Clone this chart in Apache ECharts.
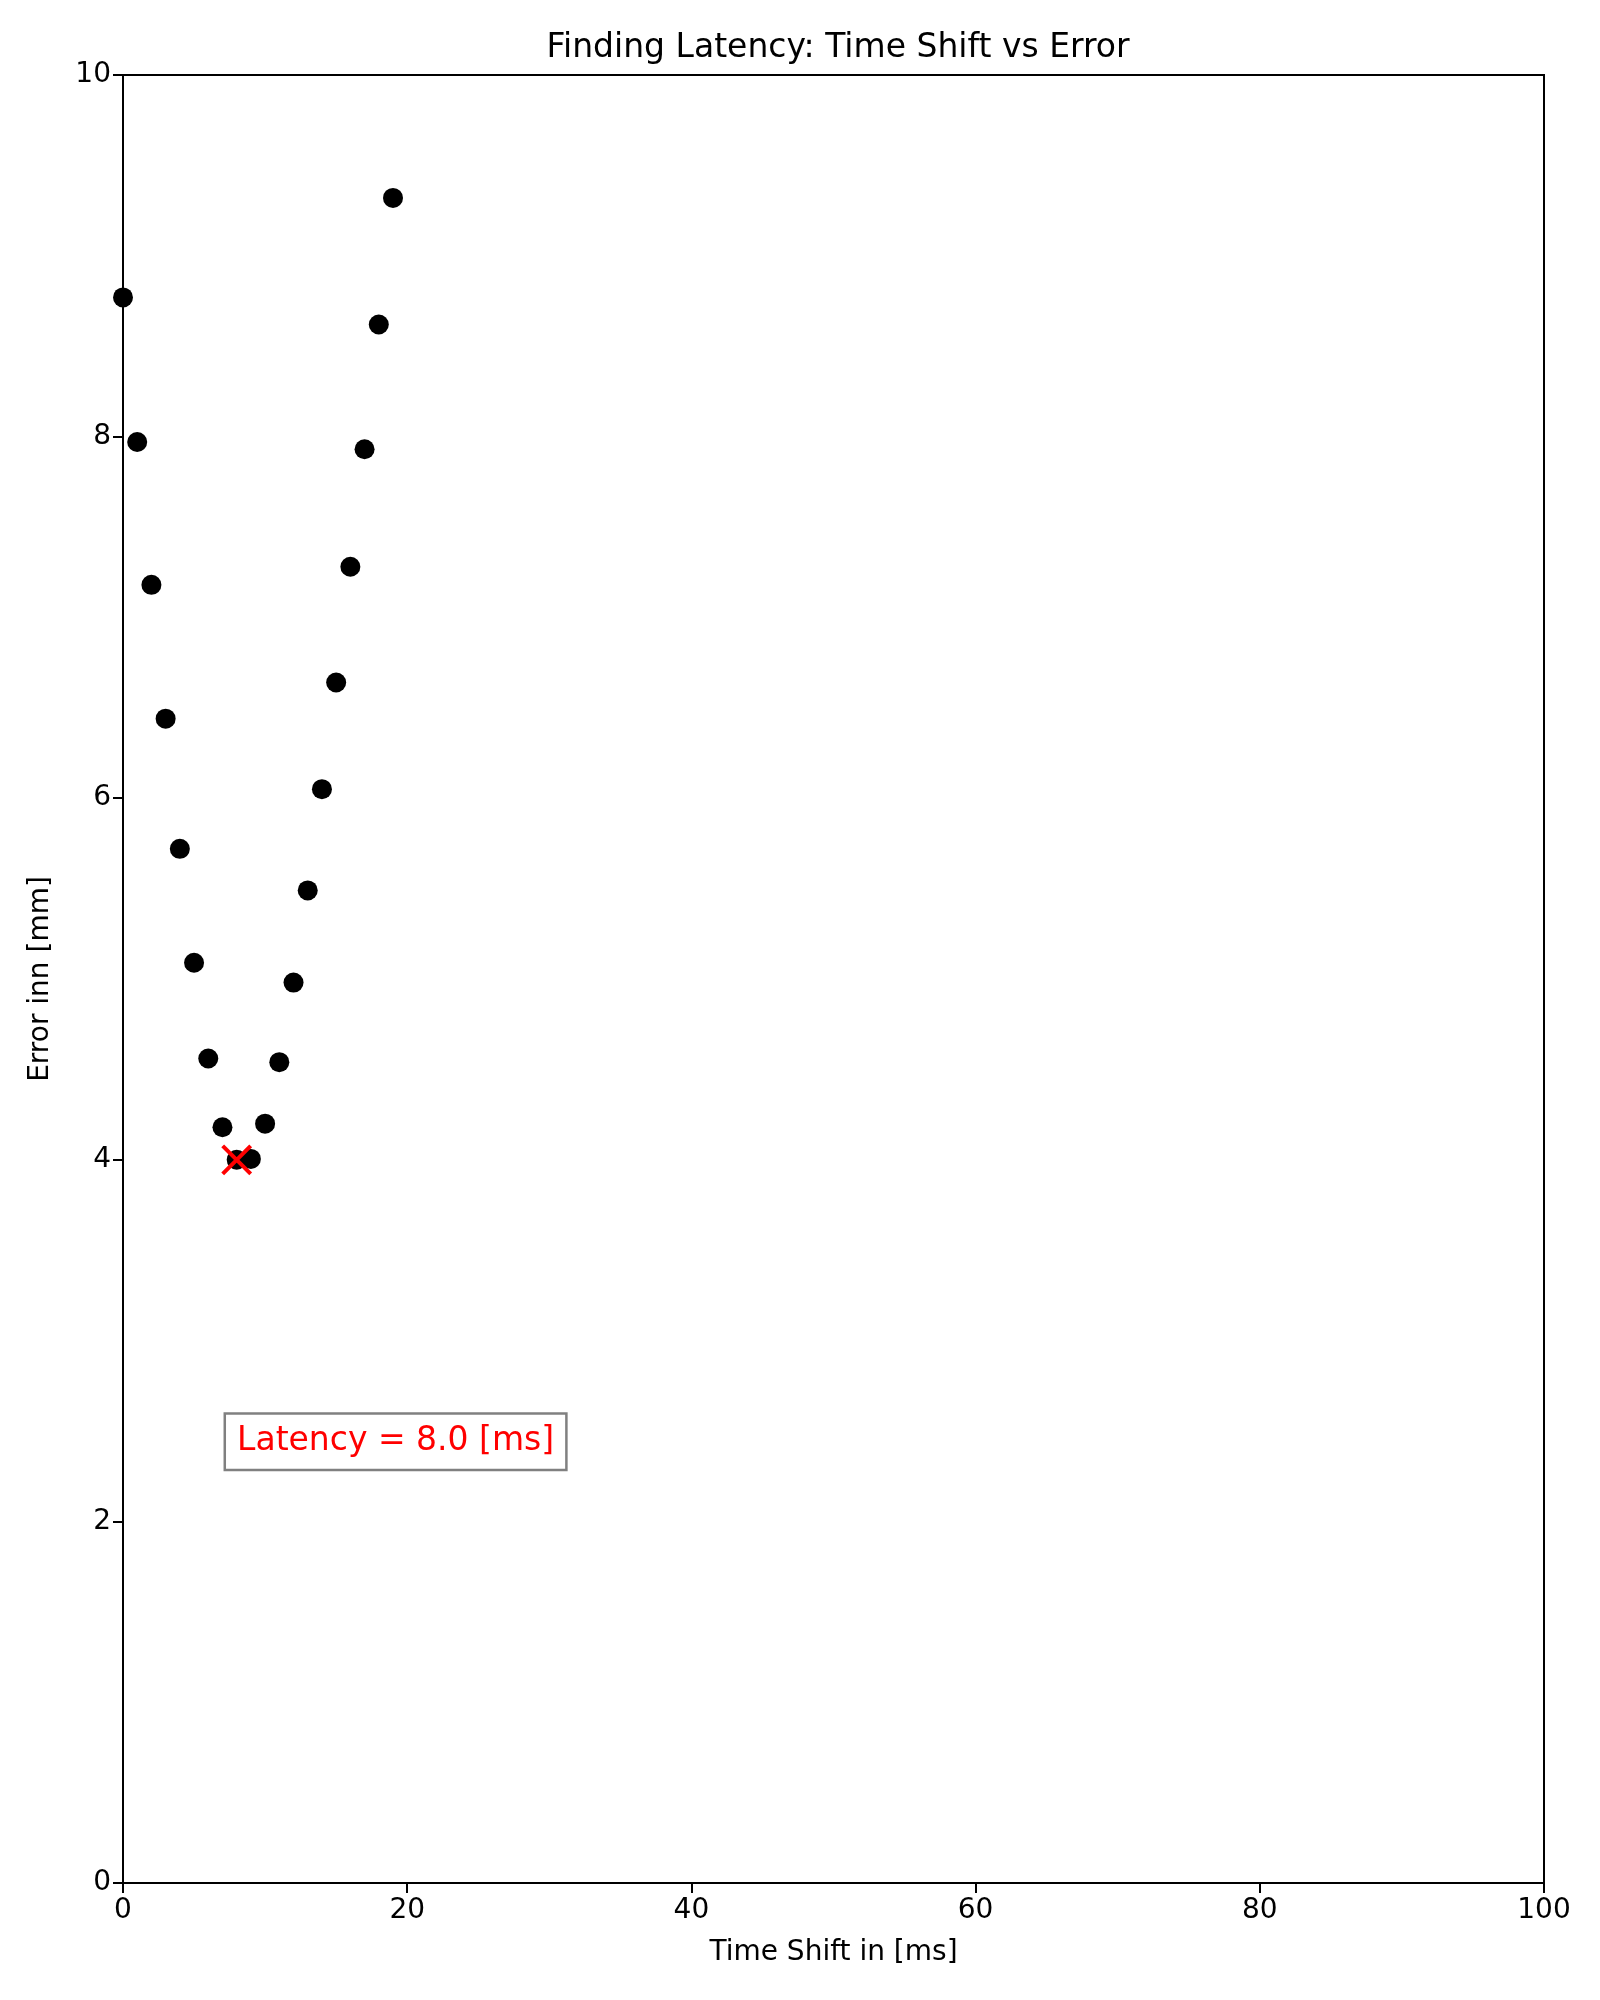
<!DOCTYPE html>
<html>
<head>
<meta charset="utf-8">
<script src="https://cdn.jsdelivr.net/npm/echarts@6/dist/echarts.min.js"></script>
<style>
html,body{margin:0;padding:0;background:#fff;}
#chart{width:1600px;height:2000px;}
</style>
</head>
<body>
<div id="chart"></div>
<script>
const timeShifts = [0,1,2,3,4,5,6,7,8,9,10,11,12,13,14,15,16,17,18,19,20];
const errors = [8.77,7.97,7.18,6.44,5.72,5.09,4.56,4.18,4.00,4.005,4.20,4.54,4.98,5.49,6.05,6.64,7.28,7.93,8.62,9.32,10.04];
const latencyX = 8.0;
const latencyY = 4.0;
const annotationText = 'Latency = 8.0 [ms]';
const annotationPos = [7.25, 2.44];
const xTicks = [0, 20, 40, 60, 80, 100];
const yTicks = [0, 2, 4, 6, 8, 10];

const font = 'DejaVu Sans';
const chart = echarts.init(document.getElementById('chart'), null, {renderer: 'canvas'});
chart.setOption({
  backgroundColor: '#fff',
  animation: false,
  title: {
    text: 'Finding Latency: Time Shift vs Error',
    left: 833, textAlign: 'center', top: 27,
    textStyle: {fontFamily: font, fontSize: 33, fontWeight: 'normal', color: '#000'}
  },
  grid: {left: 123, right: 56, top: 75, bottom: 117, show: true, borderColor: '#000', borderWidth: 2, backgroundColor: 'transparent'},
  xAxis: {
    type: 'value', min: xTicks[0], max: xTicks[xTicks.length-1], interval: 20,
    name: 'Time Shift in [ms]', nameLocation: 'middle', nameGap: 56,
    nameTextStyle: {fontFamily: font, fontSize: 28, color: '#000'},
    axisLine: {show: true, lineStyle: {color: '#000', width: 2}},
    axisTick: {show: true, length: 10, lineStyle: {color: '#000', width: 2}},
    axisLabel: {fontFamily: font, fontSize: 28, color: '#000', margin: 14},
    splitLine: {show: false}
  },
  yAxis: {
    type: 'value', min: yTicks[0], max: yTicks[yTicks.length-1], interval: 2,
    name: 'Error inn [mm]', nameLocation: 'middle', nameGap: 68,
    nameTextStyle: {fontFamily: font, fontSize: 28, color: '#000'},
    axisLine: {show: true, lineStyle: {color: '#000', width: 2}},
    axisTick: {show: true, length: 10, lineStyle: {color: '#000', width: 2}},
    axisLabel: {fontFamily: font, fontSize: 28, color: '#000', margin: 12, padding: [5, 0, 0, 0]},
    splitLine: {show: false}
  },
  series: [
    {
      type: 'scatter',
      data: timeShifts.map((x, i) => [x, errors[i]]),
      symbol: 'circle', symbolSize: 20,
      itemStyle: {color: '#000', opacity: 1},
      z: 2
    },
    {
      type: 'scatter',
      data: [[latencyX, latencyY]],
      symbol: 'path://M0,0L10,10M10,0L0,10',
      symbolSize: 28,
      itemStyle: {color: 'rgba(0,0,0,0)', borderColor: '#ff0000', borderWidth: 4, opacity: 1},
      z: 3
    },
    {
      type: 'scatter',
      data: [annotationPos],
      symbolSize: 0,
      silent: true,
      itemStyle: {opacity: 1},
      label: {
        show: true, position: 'right', distance: 0,
        formatter: annotationText,
        fontFamily: font, fontSize: 33, color: '#ff0000',
        backgroundColor: '#fff', borderColor: '#808080', borderWidth: 2.5,
        padding: [9, 11, 9, 11], lineHeight: 36
      },
      z: 4
    }
  ]
});
</script>
</body>
</html>
